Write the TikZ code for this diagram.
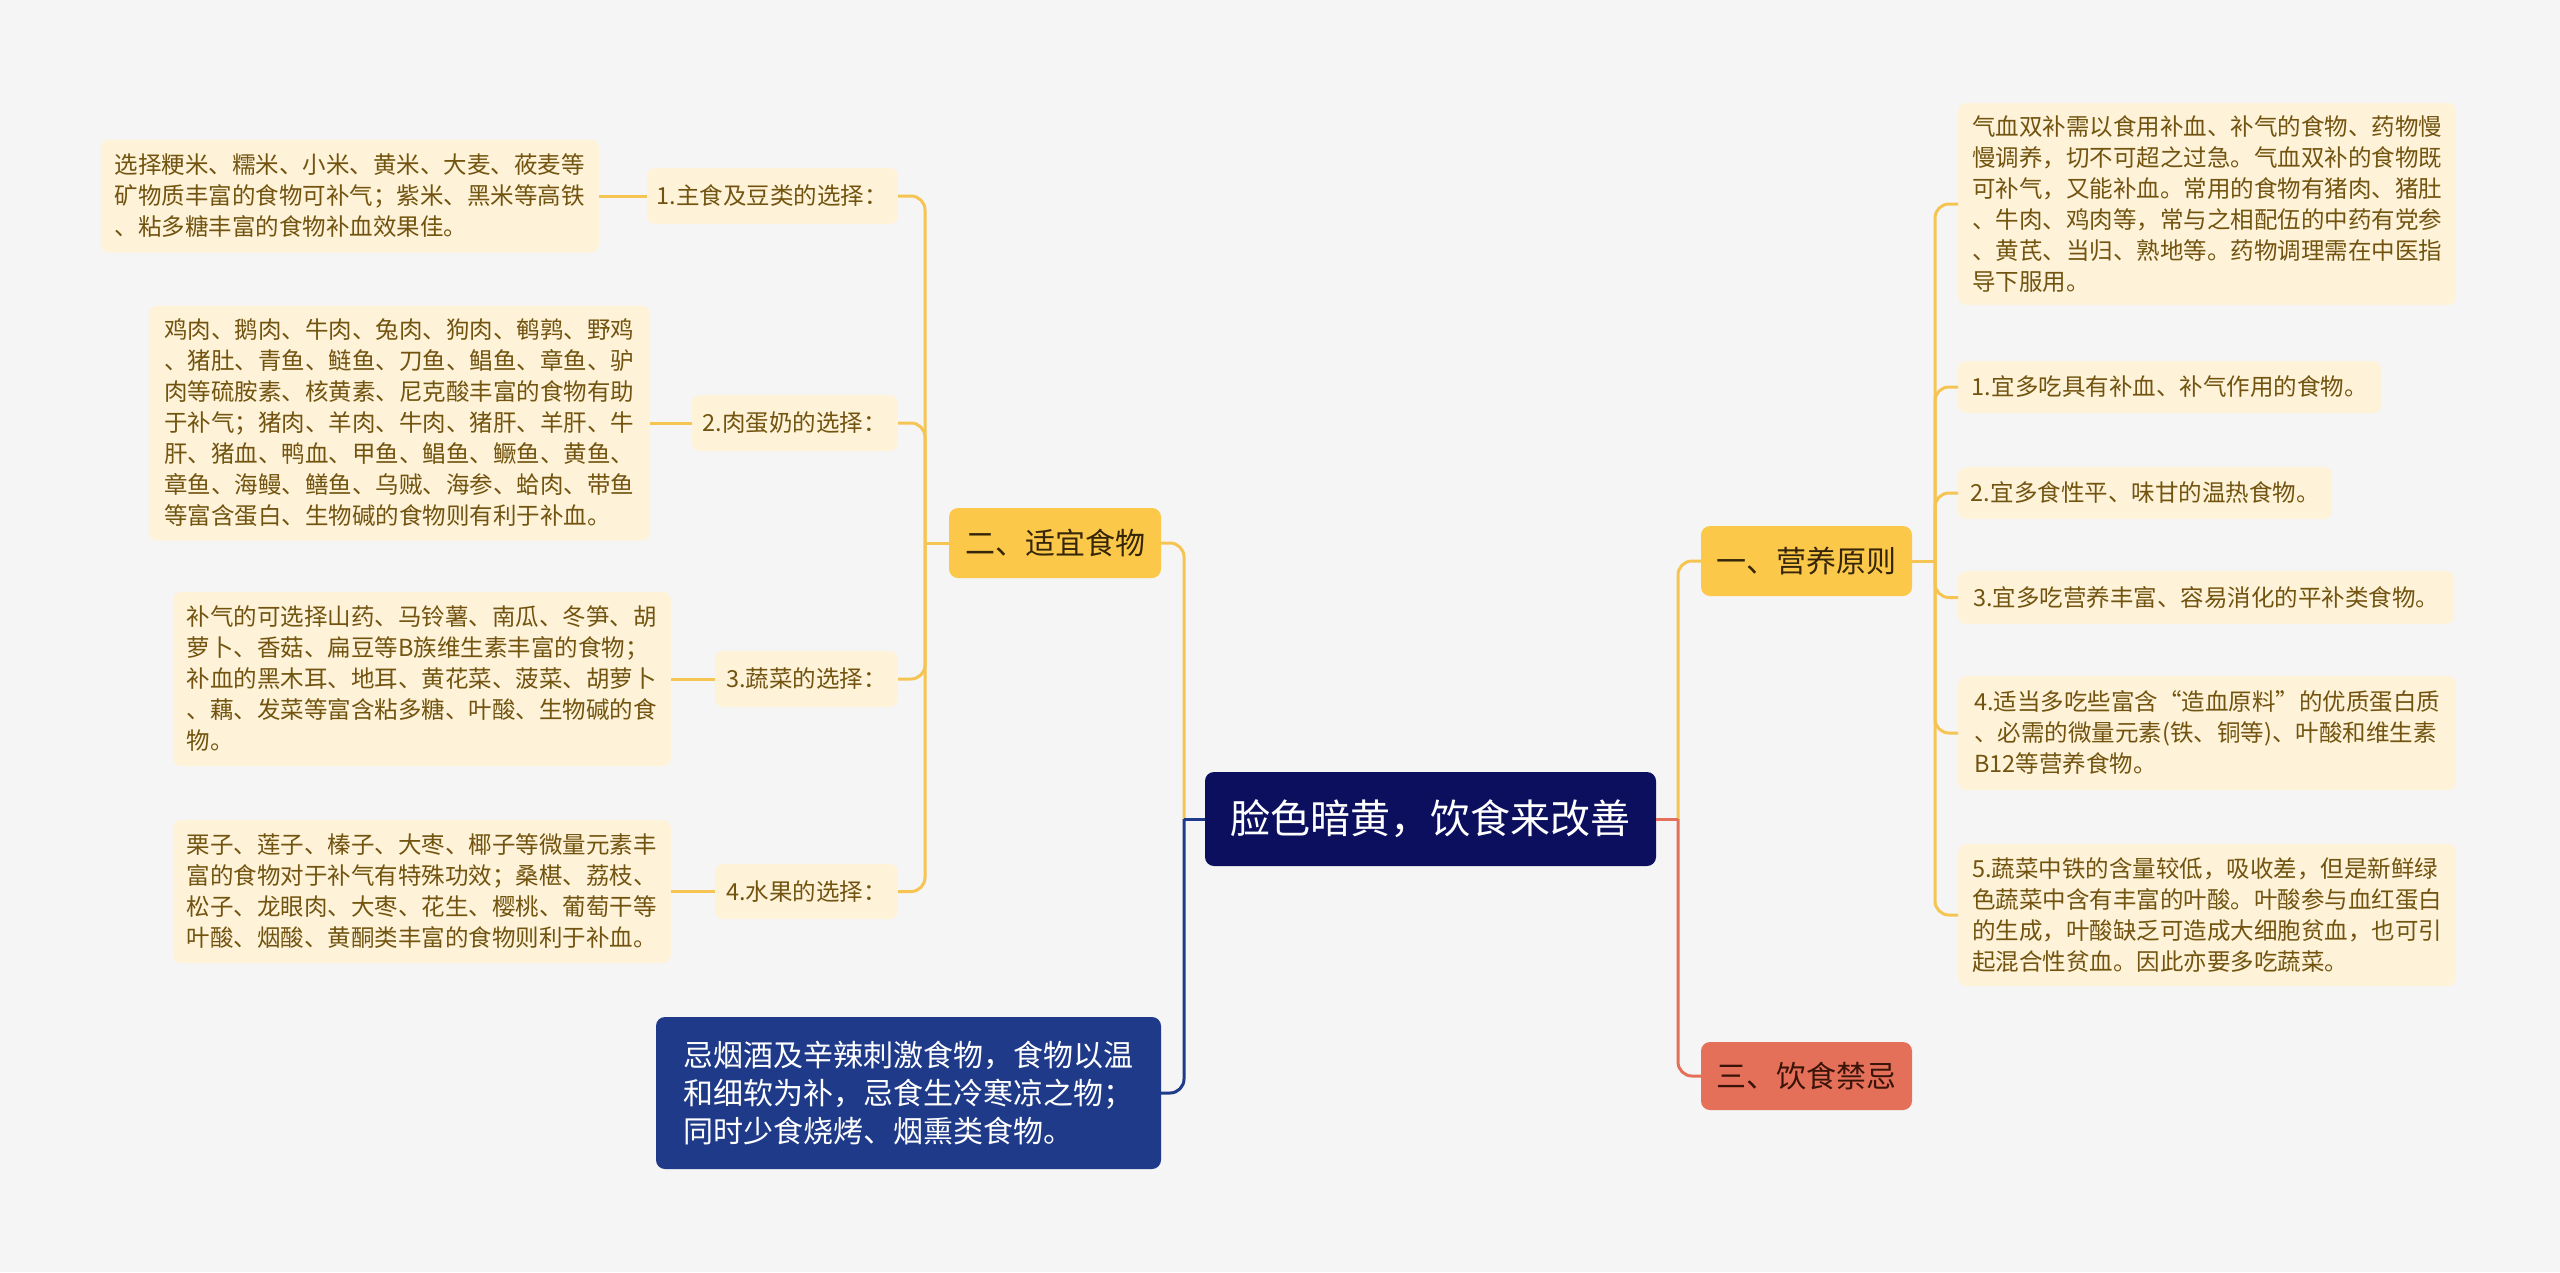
\documentclass[tikz,border=0pt]{standalone}
\usepackage{fontspec}
\setmainfont{Noto Sans CJK SC}
\usetikzlibrary{calc}

\definecolor{bgcol}{HTML}{F5F5F5}
\definecolor{rootcol}{HTML}{0B0F5E}
\definecolor{topiccol}{HTML}{FCC84A}
\definecolor{topictxt}{HTML}{35260A}
\definecolor{leafcol}{HTML}{FEF3D9}
\definecolor{leaftxt}{HTML}{725410}
\definecolor{linkyel}{HTML}{F6C453}
\definecolor{bluecol}{HTML}{1F3A89}
\definecolor{redcol}{HTML}{E5705A}
\definecolor{redtxt}{HTML}{3A1408}

\tikzset{
	leaf/.style={fill=leafcol, text=leaftxt, rounded corners=8pt, align=left, inner xsep=9pt, inner ysep=0pt, font=\fontsize{23.5}{31}\selectfont},
	topic/.style={fill=topiccol, text=topictxt, rounded corners=9pt, minimum width=211, minimum height=70, font=\fontsize{30}{36}\selectfont},
	ylink/.style={draw=linkyel, line width=3pt},
	bluelink/.style={draw=bluecol, line width=3pt},
	redlink/.style={draw=redcol, line width=3pt},
}

\begin{document}
\begin{tikzpicture}[x=1pt, y=-1pt]
			%%%%% START %%%%%
			
			\fill[bgcol] (0, 0) rectangle (2560, 1272);
			\useasboundingbox (0, 0) rectangle (2560, 1272);
			
			% centre
			\node[fill=rootcol, text=white, rounded corners=9pt, minimum width=451, minimum height=94, font=\fontsize{40}{48}\selectfont] (root) at (1430.5, 819) {脸色暗黄，饮食来改善};
			
			% main topics
			\node[topic] (pr) at (1806.5, 561) {一、营养原则};
			\node[topic, fill=redcol, text=redtxt, minimum height=68] (jj) at (1806.5, 1076) {三、饮食禁忌};
			\node[topic, minimum width=212] (sy) at (1055, 543) {二、适宜食物};
			\node[fill=bluecol, text=white, rounded corners=9pt, align=left, minimum width=505, minimum height=152, font=\fontsize{30}{38}\selectfont] (jy) at (908.5, 1093) {忌烟酒及辛辣刺激食物，食物以温\\和细软为补，忌食生冷寒凉之物；\\同时少食烧烤、烟熏类食物。};
			
			% right leaves
			\node[leaf, anchor=west, minimum width=498, minimum height=202] (pr0) at (1958, 204) {气血双补需以食用补血、补气的食物、药物慢\\慢调养，切不可超之过急。气血双补的食物既\\可补气，又能补血。常用的食物有猪肉、猪肚\\、牛肉、鸡肉等，常与之相配伍的中药有党参\\、黄芪、当归、熟地等。药物调理需在中医指\\导下服用。};
			\node[leaf, anchor=west, minimum width=423, minimum height=52] (pr1) at (1958, 387) {1.宜多吃具有补血、补气作用的食物。};
			\node[leaf, anchor=west, minimum width=374, minimum height=52] (pr2) at (1958, 493) {2.宜多食性平、味甘的温热食物。};
			\node[leaf, anchor=west, minimum width=496, minimum height=53] (pr3) at (1958, 597.5) {3.宜多吃营养丰富、容易消化的平补类食物。};
			\node[leaf, anchor=west, minimum width=498, minimum height=114] (pr4) at (1958, 733) {4.适当多吃些富含“造血原料”的优质蛋白质\\、必需的微量元素(铁、铜等)、叶酸和维生素\\B12等营养食物。};
			\node[leaf, anchor=west, minimum width=498, minimum height=142] (pr5) at (1958, 915) {5.蔬菜中铁的含量较低，吸收差，但是新鲜绿\\色蔬菜中含有丰富的叶酸。叶酸参与血红蛋白\\的生成，叶酸缺乏可造成大细胞贫血，也可引\\起混合性贫血。因此亦要多吃蔬菜。};
			
			% left sub topics
			\node[leaf, anchor=east, minimum width=251, minimum height=56] (sy1) at (898, 196) {1.主食及豆类的选择：};
			\node[leaf, anchor=east, minimum width=206, minimum height=56] (sy2) at (898, 423) {2.肉蛋奶的选择：};
			\node[leaf, anchor=east, minimum width=183, minimum height=56] (sy3) at (898, 679) {3.蔬菜的选择：};
			\node[leaf, anchor=east, minimum width=183, minimum height=55] (sy4) at (898, 891.5) {4.水果的选择：};
			
			% left leaves
			\node[leaf, anchor=east, minimum width=498, minimum height=113] (ly1) at (599, 196) {选择粳米、糯米、小米、黄米、大麦、莜麦等\\矿物质丰富的食物可补气；紫米、黑米等高铁\\、粘多糖丰富的食物补血效果佳。};
			\node[leaf, anchor=east, minimum width=501, minimum height=235] (ly2) at (650, 423) {鸡肉、鹅肉、牛肉、兔肉、狗肉、鹌鹑、野鸡\\、猪肚、青鱼、鲢鱼、刀鱼、鲳鱼、章鱼、驴\\肉等硫胺素、核黄素、尼克酸丰富的食物有助\\于补气；猪肉、羊肉、牛肉、猪肝、羊肝、牛\\肝、猪血、鸭血、甲鱼、鲳鱼、鳜鱼、黄鱼、\\章鱼、海鳗、鳝鱼、乌贼、海参、蛤肉、带鱼\\等富含蛋白、生物碱的食物则有利于补血。};
			\node[leaf, anchor=east, minimum width=498, minimum height=174] (ly3) at (671, 679) {补气的可选择山药、马铃薯、南瓜、冬笋、胡\\萝卜、香菇、扁豆等B族维生素丰富的食物；\\补血的黑木耳、地耳、黄花菜、菠菜、胡萝卜\\、藕、发菜等富含粘多糖、叶酸、生物碱的食\\物。};
			\node[leaf, anchor=east, minimum width=498, minimum height=143] (ly4) at (671, 891.5) {栗子、莲子、榛子、大枣、椰子等微量元素丰\\富的食物对于补气有特殊功效；桑椹、荔枝、\\松子、龙眼肉、大枣、花生、樱桃、葡萄干等\\叶酸、烟酸、黄酮类丰富的食物则利于补血。};
			
			% joints
			\coordinate (jr) at (1678, 819);
			\coordinate (jl) at (1184, 819);
			\coordinate (jpr) at (1935, 561);
			\coordinate (jsy) at (925, 543);
			
			% links from the centre
			\draw[ylink, rounded corners=14pt] (jr) |- (pr.west);
			\draw[redlink, rounded corners=14pt] (jr) |- (jj.west);
			\draw[redlink] (root.east) -- (jr);
			\draw[ylink, rounded corners=14pt] (jl) |- (sy.east);
			\draw[bluelink, rounded corners=14pt] (jl) |- (jy.east);
			\draw[bluelink] (root.west) -- (jl);
			
			% links on the right
			\draw[ylink] (pr.east) -- (jpr);
			\draw[ylink, rounded corners=14pt] (jpr) |- (pr0.west);
			\draw[ylink, rounded corners=14pt] (jpr) |- (pr1.west);
			\draw[ylink, rounded corners=14pt] (jpr) |- (pr2.west);
			\draw[ylink, rounded corners=14pt] (jpr) |- (pr3.west);
			\draw[ylink, rounded corners=14pt] (jpr) |- (pr4.west);
			\draw[ylink, rounded corners=14pt] (jpr) |- (pr5.west);
			
			% links on the left
			\draw[ylink] (sy.west) -- (jsy);
			\draw[ylink, rounded corners=14pt] (jsy) |- (sy1.east);
			\draw[ylink, rounded corners=14pt] (jsy) |- (sy2.east);
			\draw[ylink, rounded corners=14pt] (jsy) |- (sy3.east);
			\draw[ylink, rounded corners=14pt] (jsy) |- (sy4.east);
			\draw[ylink] (sy1.west) -- (ly1.east);
			\draw[ylink] (sy2.west) -- (ly2.east);
			\draw[ylink] (sy3.west) -- (ly3.east);
			\draw[ylink] (sy4.west) -- (ly4.east);
			
			%%%%% END %%%%%
\end{tikzpicture}
\end{document}
